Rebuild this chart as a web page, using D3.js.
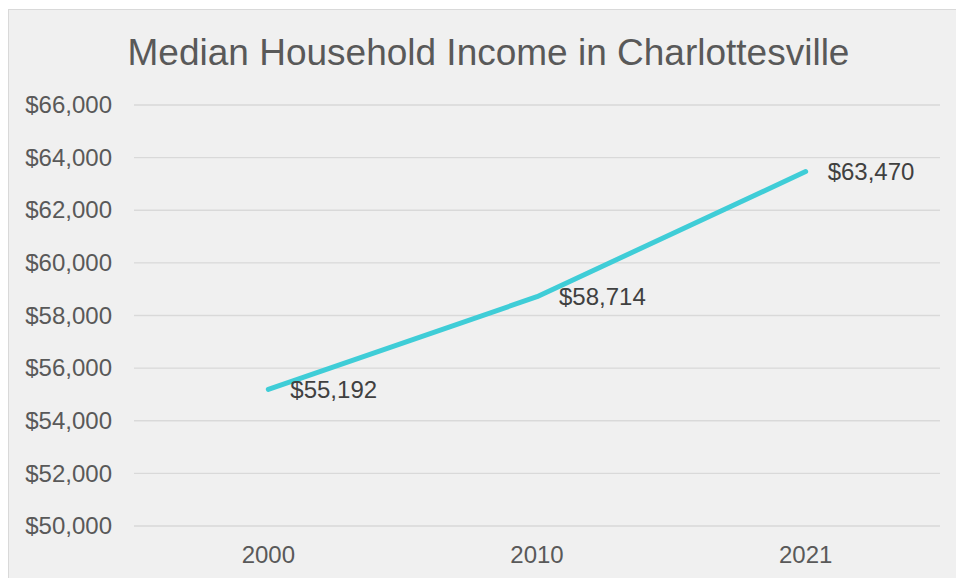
<!DOCTYPE html>
<html>
<head>
<meta charset="utf-8">
<script src="https://cdn.jsdelivr.net/npm/d3@7"></script>
<style>
  html, body { margin: 0; padding: 0; background: #ffffff; }
  svg { display: block; }
  text { font-family: "Liberation Sans", Arial, sans-serif; }
</style>
</head>
<body>
<svg id="chart" width="956" height="578"></svg>
<script>
// Median household income, Charlottesville
const years = ["2000", "2010", "2021"];
const incomes = [55192, 58714, 63470];
const yTicks = [50000, 52000, 54000, 56000, 58000, 60000, 62000, 64000, 66000];
const chartTitle = "Median Household Income in Charlottesville";

const svg = d3.select("#chart");
const W = 956, H = 578;

// chart panel
svg.append("rect")
  .attr("x", 8.5).attr("y", 9.5)
  .attr("width", W).attr("height", H)
  .attr("fill", "#f0f0f0")
  .attr("stroke", "#d9d9d9")
  .attr("stroke-width", 1);

const plot = { left: 134, right: 940, top: 105, bottom: 526 };

const x = d3.scaleBand()
  .domain(years)
  .range([plot.left, plot.right]);

const y = d3.scaleLinear()
  .domain([50000, 66000])
  .range([plot.bottom, plot.top]);

const fmt = d3.format("$,");

// title
svg.append("text")
  .attr("x", 488.5).attr("y", 64.5)
  .attr("text-anchor", "middle")
  .attr("font-size", 37)
  .attr("fill", "#595959")
  .text(chartTitle);

// horizontal gridlines
svg.append("g")
  .selectAll("line")
  .data(yTicks)
  .join("line")
  .attr("x1", plot.left).attr("x2", plot.right)
  .attr("y1", d => y(d)).attr("y2", d => y(d))
  .attr("stroke", "#d9d9d9")
  .attr("stroke-width", 1.4);

// y axis labels
const yAxis = d3.axisLeft(y).tickValues(yTicks).tickFormat(fmt).tickSize(0).tickPadding(22);
const gy = svg.append("g")
  .attr("transform", `translate(${plot.left},0)`)
  .call(yAxis);
gy.select(".domain").remove();
gy.selectAll("text")
  .attr("font-size", 24)
  .attr("fill", "#595959")
  .attr("font-family", "'Liberation Sans', Arial, sans-serif");

// x axis labels
const xAxis = d3.axisBottom(x).tickSize(0).tickPadding(20);
const gx = svg.append("g")
  .attr("transform", `translate(0,${plot.bottom})`)
  .call(xAxis);
gx.select(".domain").remove();
gx.selectAll("text")
  .attr("font-size", 24)
  .attr("fill", "#595959")
  .attr("font-family", "'Liberation Sans', Arial, sans-serif");

const cx = d => x(d) + x.bandwidth() / 2;

// income line
const line = d3.line()
  .x((d, i) => cx(years[i]))
  .y(d => y(d));

svg.append("path")
  .datum(incomes)
  .attr("d", line)
  .attr("fill", "none")
  .attr("stroke", "#3fcdd7")
  .attr("stroke-width", 5)
  .attr("stroke-linecap", "round")
  .attr("stroke-linejoin", "round");

// value labels
svg.append("g")
  .selectAll("text")
  .data(incomes)
  .join("text")
  .attr("x", (d, i) => cx(years[i]) + 22)
  .attr("y", d => y(d))
  .attr("dy", "0.36em")
  .attr("font-size", 24)
  .attr("fill", "#404040")
  .text(d => fmt(d));
</script>
</body>
</html>
